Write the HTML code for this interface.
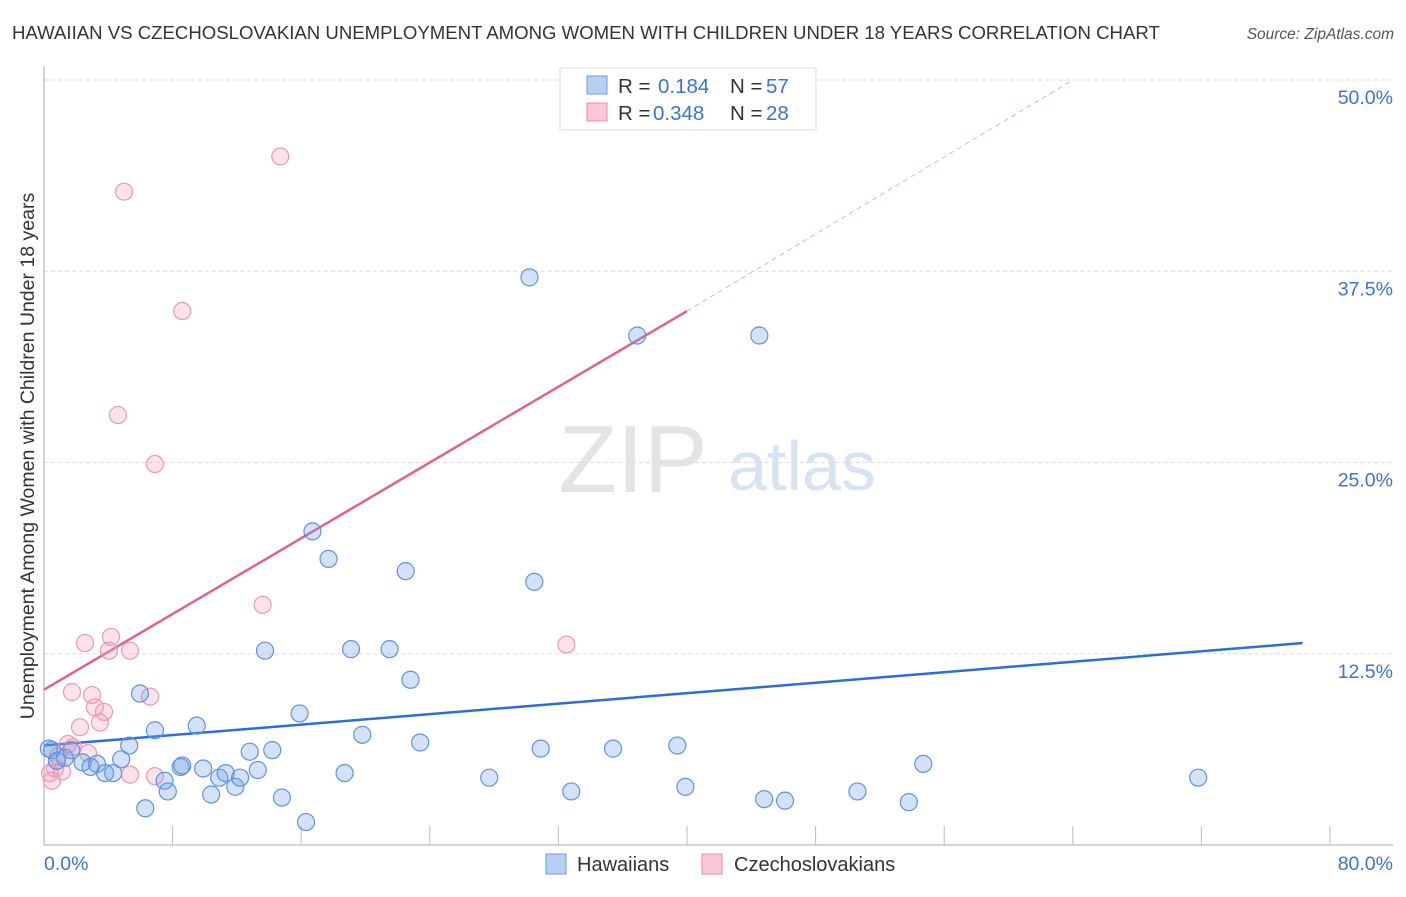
<!DOCTYPE html>
<html><head><meta charset="utf-8"><style>
body{margin:0;background:#fff;font-family:"Liberation Sans",sans-serif}
svg text{font-family:"Liberation Sans",sans-serif}
</style></head><body>
<svg id="c" width="1406" height="892" viewBox="0 0 1406 892">
<text x="12" y="39" font-size="18.6" fill="#333">HAWAIIAN VS CZECHOSLOVAKIAN UNEMPLOYMENT AMONG WOMEN WITH CHILDREN UNDER 18 YEARS CORRELATION CHART</text>
<text x="1394" y="39" font-size="15.5" fill="#555" font-style="italic" text-anchor="end">Source: ZipAtlas.com</text>
<g>
<text x="633" y="492" font-size="96" font-family="Liberation Serif,serif" fill="#e4e4e4" text-anchor="middle">ZIP</text>
<text x="802" y="490" font-size="70" fill="#d6e3f5" text-anchor="middle">atlas</text>
</g>
<g id="grid"></g>
<g id="axes"></g>
<g id="lines"></g>
<g id="pts"></g>
<text transform="translate(34,456) rotate(-90)" font-size="19.5" fill="#333" text-anchor="middle">Unemployment Among Women with Children Under 18 years</text>
<g>
<rect x="560" y="68" width="256" height="62" fill="#fff" stroke="#ddd"/>
<rect x="587" y="76" width="20" height="18" fill="#b7d0f3" stroke="#6f9de0"/>
<text x="618" y="93" font-size="20.5" fill="#333">R = </text><text x="658" y="93" font-size="20.5" fill="#3a72d8">0.184</text>
<text x="730" y="93" font-size="20.5" fill="#333">N = </text><text x="766" y="93" font-size="20.5" fill="#3a72d8">57</text>
<rect x="587" y="103" width="20" height="18" fill="#f8c8d6" stroke="#e88aa8"/>
<text x="618" y="120" font-size="20.5" fill="#333">R = </text><text x="653" y="120" font-size="20.5" fill="#3a72d8">0.348</text>
<text x="730" y="120" font-size="20.5" fill="#333">N = </text><text x="766" y="120" font-size="20.5" fill="#3a72d8">28</text>
</g>
<g>
<rect x="546" y="854" width="20" height="20" fill="#b7d0f3" stroke="#6f9de0"/>
<text x="577" y="871" font-size="20" fill="#333">Hawaiians</text>
<rect x="702" y="854" width="20" height="20" fill="#f8c8d6" stroke="#e88aa8"/>
<text x="734" y="871" font-size="20" fill="#333">Czechoslovakians</text>
</g>
</svg>
<script>
const yTicks=[12.5,25,37.5,50];
const yTickLabels=["12.5%","25.0%","37.5%","50.0%"];
const blueX=[0.5,0.8,1.3,1.7,2.4,2.9,3.3,3.8,4.3,4.8,5.3,5.97,6.3,6.9,7.5,7.7,8.5,8.6,9.5,9.9,10.4,10.9,11.3,11.9,12.2,12.8,13.3,13.75,14.2,14.8,15.9,16.3,16.7,17.7,18.7,19.1,19.8,21.5,22.5,22.8,23.4,27.7,30.2,30.5,30.9,32.8,35.4,36.9,39.4,39.9,44.5,44.8,46.1,50.6,53.8,54.7,71.8,0.3];
const blueY=[6.2,5.5,5.7,6.2,5.4,5.1,5.3,4.7,4.7,5.6,6.5,9.9,2.4,7.5,4.2,3.5,5.1,5.2,7.8,5.0,3.3,4.4,4.7,3.8,4.4,6.1,4.9,12.7,6.2,3.1,8.6,1.5,20.5,18.7,4.7,12.8,7.2,12.8,17.9,10.8,6.7,4.4,37.1,17.2,6.3,3.5,6.3,33.3,6.5,3.8,33.3,3.0,2.9,3.5,2.8,5.3,4.4,6.3];
const pinkX=[14.7,4.98,8.6,4.6,6.9,13.6,32.5,2.55,4.17,4.04,5.35,1.74,2.99,6.6,3.17,3.73,2.24,3.48,1.49,2.74,1.8,0.68,1.12,0.37,0.5,6.9,5.35,0.87];
const pinkY=[45.0,42.7,34.9,28.1,24.9,15.7,13.1,13.2,13.6,12.7,12.7,10.0,9.8,9.7,9.0,8.7,7.7,8.0,6.6,6.0,6.4,5.0,4.8,4.7,4.2,4.5,4.6,5.8];
const blueTrend=[0,6.5,78.3,13.2];
const pinkTrend=[0,10.15,40,34.9];
const pinkDash=[40,34.9,64,50];

const X0=44,X1=1330,Y0=845,Y50=80;
const sx=v=>X0+(X1-X0)*v/80, sy=v=>Y0-(Y0-Y50)*v/50;
const NS="http://www.w3.org/2000/svg";
function mk(p,t,a){const e=document.createElementNS(NS,t);for(const k in a)e.setAttribute(k,a[k]);p.appendChild(e);return e;}
const grid=document.getElementById('grid'),axes=document.getElementById('axes'),lines=document.getElementById('lines'),pts=document.getElementById('pts');
yTicks.forEach((t,i)=>{
 const g=mk(grid,'line',{x1:X0,x2:1393,y1:sy(t),y2:sy(t),stroke:'#ddd','stroke-dasharray':'4,3'});
 
 
 const l=mk(grid,'text',{x:1393,y:sy(t)+24,'font-size':19.5,fill:'#3a72d8','text-anchor':'end'});l.textContent=yTickLabels[i];
 
 
});
const ya=mk(axes,'line',{x1:X0,x2:X0,y1:66,y2:Y0,stroke:'#aaa'});


const xa=mk(axes,'line',{x1:X0,x2:1393,y1:Y0,y2:Y0,stroke:'#aaa'});


for(let v=8;v<=80;v+=8){const t=mk(axes,'line',{x1:sx(v),x2:sx(v),y1:Y0-19,y2:Y0,stroke:'#bbb'});
 
 }
const xl0=mk(axes,'text',{x:X0,y:870,'font-size':19.5,fill:'#3a72d8'});xl0.textContent='0.0%';


const xl1=mk(axes,'text',{x:1393,y:870,'font-size':19.5,fill:'#3a72d8','text-anchor':'end'});xl1.textContent='80.0%';


function pt(xs,ys,fill,stroke,name){xs.forEach((x,i)=>{const c=mk(pts,'circle',{cx:sx(x),cy:sy(ys[i]),r:8.5,fill,stroke,'stroke-width':1.2});
 
 });}
pt(pinkX,pinkY,'rgba(244,160,188,0.3)','#ea98b3','czechoslovakian-point');
pt(blueX,blueY,'rgba(110,160,232,0.3)','#5f93dd','hawaiian-point');
const bt=mk(lines,'line',{x1:sx(blueTrend[0]),y1:sy(blueTrend[1]),x2:sx(blueTrend[2]),y2:sy(blueTrend[3]),stroke:'#2a6fd6','stroke-width':2.5});


const pl=mk(lines,'line',{x1:sx(pinkTrend[0]),y1:sy(pinkTrend[1]),x2:sx(pinkTrend[2]),y2:sy(pinkTrend[3]),stroke:'#e2628c','stroke-width':2.5});


const pd=mk(lines,'line',{x1:sx(pinkDash[0]),y1:sy(pinkDash[1]),x2:sx(pinkDash[2]),y2:sy(pinkDash[3]),stroke:'#eab0c2','stroke-width':1,'stroke-dasharray':'5,4'});


</script>
</body></html>
